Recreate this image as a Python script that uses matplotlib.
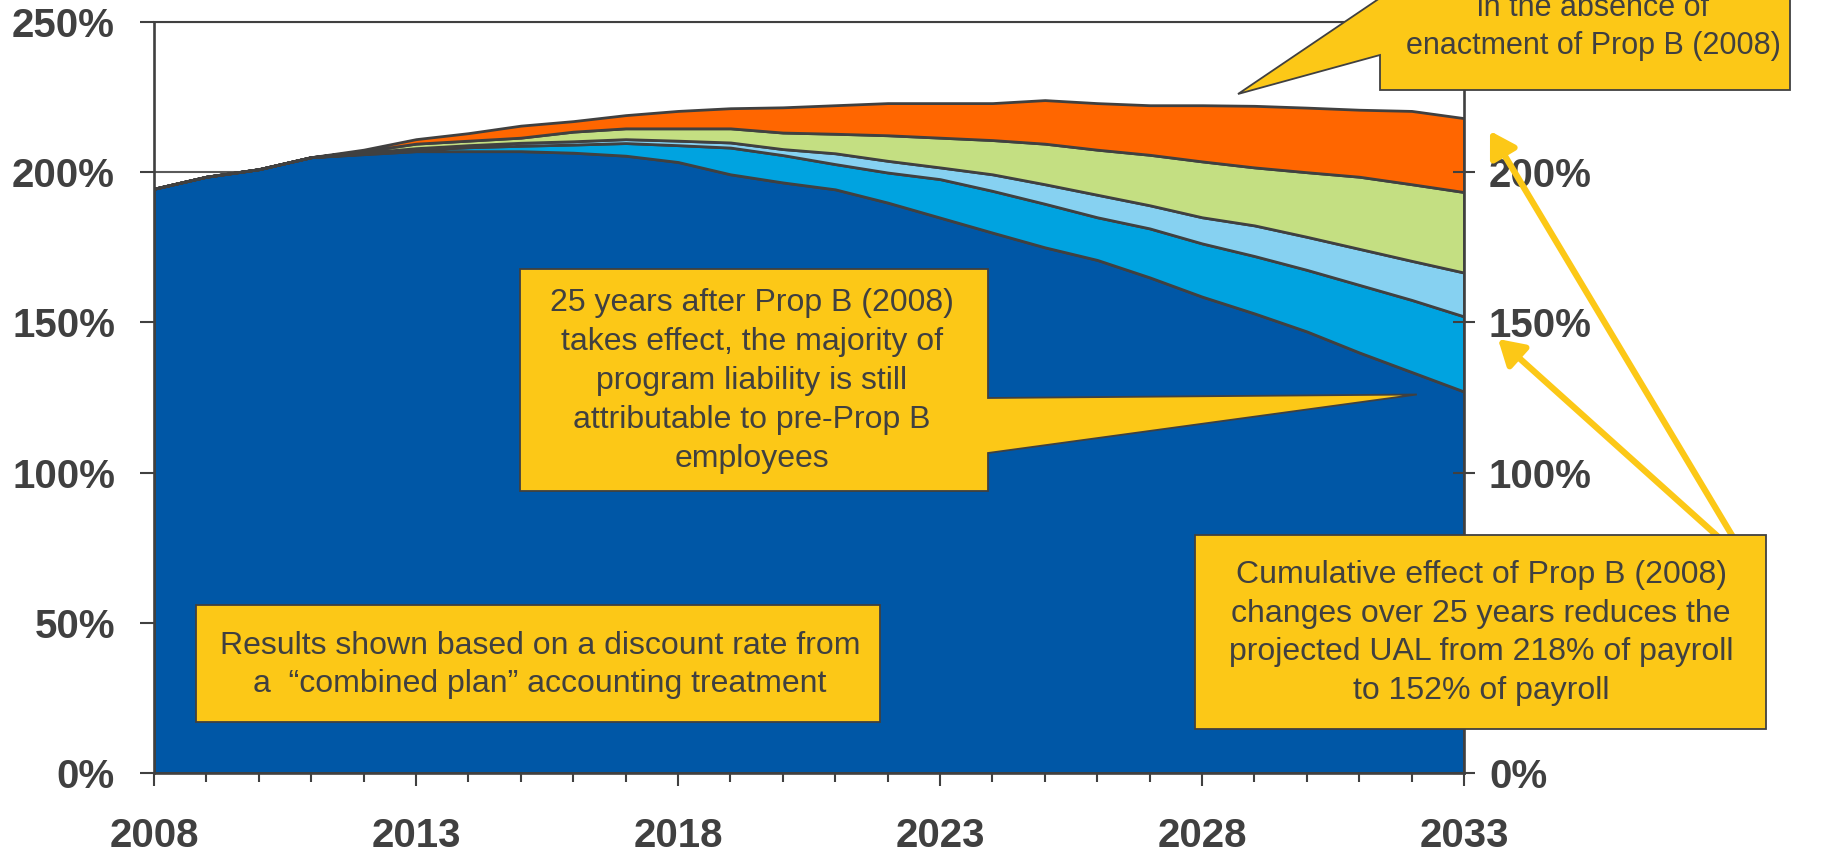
import numpy as np
import matplotlib
matplotlib.use("Agg")
import matplotlib.pyplot as plt
from matplotlib.patches import Polygon, FancyArrowPatch, ArrowStyle
from matplotlib.transforms import IdentityTransform
from matplotlib.ticker import MultipleLocator, FixedLocator, FuncFormatter

# projected UAL as % of payroll, stacked by source
years = np.arange(2008, 2034)
pre_prop_b = [194.5, 198.5, 201.0, 205.0, 206.0, 207.0, 207.0, 207.0, 206.5, 205.5, 203.4, 199.3, 196.6,
              194.3, 189.9, 184.9, 179.9, 175.0, 170.8, 165.0, 158.6, 153.0, 147.0, 140.0, 133.5, 127.0]
post_prop_b = [0, 0, 0, 0, 0.2, 0.5, 1.3, 1.8, 2.7, 4.2, 5.6, 8.9, 9.1,
               8.4, 10.0, 12.8, 13.9, 14.5, 14.2, 16.3, 17.7, 19.1, 20.5, 22.5, 24.0, 25.0]
other_changes = [0, 0, 0, 0, 0.3, 0.5, 0.7, 1.0, 1.1, 1.3, 1.5, 1.7, 2.0,
                 3.6, 3.9, 3.9, 5.5, 6.5, 7.5, 7.7, 8.7, 10.2, 11.0, 12.0, 13.0, 14.6]
benefit_changes = [0, 0, 0, 0, 0.5, 1.5, 1.5, 1.7, 3.2, 3.6, 4.1, 4.7, 5.5,
                   6.5, 8.5, 9.9, 11.4, 13.5, 15.0, 16.8, 18.6, 19.3, 21.5, 24.0, 25.5, 26.8]
no_prop_b = [0, 0, 0, 0, 0.5, 1.5, 2.5, 4.0, 3.5, 4.4, 5.8, 6.7, 8.4,
             9.5, 10.7, 11.5, 12.3, 14.5, 15.5, 16.5, 18.7, 20.5, 21.5, 22.3, 24.4, 24.6]
year_ticks = [2008, 2013, 2018, 2023, 2028, 2033]
yticks = [0, 50, 100, 150, 200, 250]
right_labels = ["0%", "", "100%", "150%", "200%", ""]   # 50% and 250% sit under the callouts

INK = "#404040"
YELLOW = "#FCC817"
colors = ["#0057A6", "#00A3E0", "#86D1F1", "#C4DF82", "#FF6600"]

W, H = 1821, 855
fig = plt.figure(figsize=(W / 100, H / 100), dpi=100)
ax = fig.add_axes([154 / W, (H - 773) / H, (1464 - 154) / W, (773 - 22) / H])

ax.stackplot(years, pre_prop_b, post_prop_b, other_changes, benefit_changes, no_prop_b,
             colors=colors, edgecolor=INK, linewidth=2.0, zorder=2)
ax.set_xlim(2008, 2033)
ax.set_ylim(0, 250)
ax.set_axisbelow(True)
ax.yaxis.grid(True, color="#5a5a5a", lw=1.5)

pct = FuncFormatter(lambda v, _: f"{v:.0f}%")
tick_font = dict(family="Liberation Sans", weight="bold", size=29)
ax.set_yticks(yticks)
ax.yaxis.set_major_formatter(pct)
ax.xaxis.set_major_locator(FixedLocator(year_ticks))
ax.xaxis.set_minor_locator(MultipleLocator(1))
ax.tick_params(axis="y", direction="out", length=10, width=1.5, color=INK, pad=18, labelcolor=INK)
ax.tick_params(axis="x", which="major", direction="out", length=9.5, width=1.5, color=INK, pad=22,
               labelcolor=INK)
ax.tick_params(axis="x", which="minor", direction="out", length=6.5, width=1.5, color=INK)
for lab in ax.get_xticklabels() + ax.get_yticklabels():
    lab.set_fontproperties(tick_font)
for s in ax.spines.values():
    s.set_color(INK)
    s.set_linewidth(1.9)
ax.spines["top"].set_linewidth(1.5)

twin = ax.twinx()
twin.set_ylim(0, 250)
twin.set_yticks(yticks, right_labels)
twin.tick_params(axis="y", direction="inout", length=16, width=1.5, color=INK, pad=10, labelcolor=INK)
for lab in twin.get_yticklabels():
    lab.set_fontproperties(tick_font)
for s in twin.spines.values():
    s.set_visible(False)


def px(x, y):
    # pixel coords measured from the top-left corner
    return (x, H - y)


def callout(pts, zorder=6):
    poly = Polygon([px(*p) for p in pts], closed=True, facecolor=YELLOW, edgecolor=INK,
                   lw=1.3, transform=IdentityTransform(), zorder=zorder)
    fig.add_artist(poly)


def label(x, y, s, size=23, zorder=8):
    fig.text(*px(x, y), s, transform=IdentityTransform(), ha="center", va="center",
             ma="center", fontsize=size, family="Liberation Sans", color=INK,
             linespacing=1.39, zorder=zorder)


# pointer tip resolved through the data axes
tip_mid = ax.transData.transform((2032.1, 126))
tip_mid = (tip_mid[0], H - tip_mid[1])

# arrows from the summary box up to the end values
for tip, base in [((1490, 131), (1736, 542)), ((1498, 339), (1724, 542))]:
    arr = FancyArrowPatch(px(*base), px(*tip), transform=IdentityTransform(),
                          arrowstyle=ArrowStyle("-|>", head_length=15, head_width=9),
                          lw=4.5, color=YELLOW, shrinkA=0, shrinkB=0, zorder=5)
    fig.add_artist(arr)

callout([(1380, -60), (1380, -2), (1238, 94), (1380, 55), (1380, 90), (1790, 90), (1790, -60)])
label(1593, 27, "in the absence of\nenactment of Prop B (2008)", size=22)

callout([(520, 269), (988, 269), (988, 398), tip_mid, (988, 453), (988, 491), (520, 491)])
label(752, 381, "25 years after Prop B (2008)\ntakes effect, the majority of\n"
                "program liability is still\nattributable to pre-Prop B\nemployees")

callout([(196, 605), (880, 605), (880, 722), (196, 722)])
label(540, 665, "Results shown based on a discount rate from\na  \u201ccombined plan\u201d accounting treatment")

callout([(1195, 535), (1766, 535), (1766, 729), (1195, 729)])
label(1481, 633, "Cumulative effect of Prop B (2008)\nchanges over 25 years reduces the\n"
                 "projected UAL from 218% of payroll\nto 152% of payroll")

fig.savefig("out.png", dpi=100)
